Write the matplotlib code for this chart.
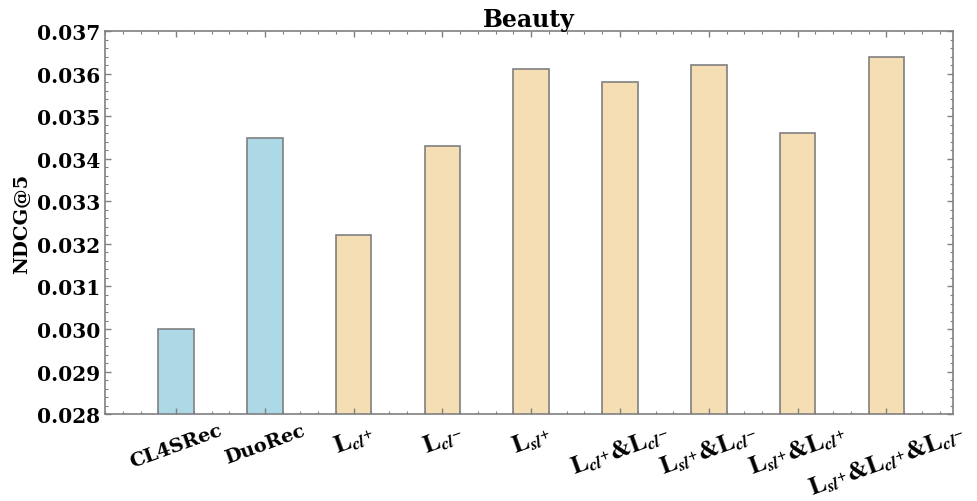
import matplotlib
matplotlib.use("Agg")
import matplotlib.pyplot as plt
import numpy as np
from matplotlib.ticker import MultipleLocator, FormatStrFormatter

plt.rcParams['font.family'] = 'DejaVu Serif'
plt.rcParams['font.weight'] = 'bold'
plt.rcParams['mathtext.fontset'] = 'stix'

methods = ['CL4SRec', 'DuoRec',
           r'$\mathbf{L}_{\boldsymbol{cl}^{+}}$',
           r'$\mathbf{L}_{\boldsymbol{cl}^{-}}$',
           r'$\mathbf{L}_{\boldsymbol{sl}^{+}}$',
           r'$\mathbf{L}_{\boldsymbol{cl}^{+}}$&$\mathbf{L}_{\boldsymbol{cl}^{-}}$',
           r'$\mathbf{L}_{\boldsymbol{sl}^{+}}$&$\mathbf{L}_{\boldsymbol{cl}^{-}}$',
           r'$\mathbf{L}_{\boldsymbol{sl}^{+}}$&$\mathbf{L}_{\boldsymbol{cl}^{+}}$',
           r'$\mathbf{L}_{\boldsymbol{sl}^{+}}$&$\mathbf{L}_{\boldsymbol{cl}^{+}}$'
           r'&$\mathbf{L}_{\boldsymbol{cl}^{-}}$']
ndcg5 = [0.0300, 0.0345, 0.0322, 0.0343, 0.0361, 0.0358, 0.0362, 0.0346, 0.0364]
colors = ['lightblue', 'lightblue'] + ['wheat'] * 7

fig = plt.figure(figsize=(9.77, 5.02), dpi=100)
ax = fig.add_axes([0.1075, 0.173, 0.8679, 0.763])

x = np.arange(len(methods))
ax.bar(x, ndcg5, width=0.4, color=colors, edgecolor='gray', linewidth=1.2)

ax.set_xlim(-0.8, 8.75)
ax.set_ylim(0.028, 0.037)
ax.set_xticks(x)
ax.set_xticklabels(methods, rotation=20, ha='center', fontsize=14, fontweight='bold')
# loss-combination labels use a larger STIX face
for lbl in ax.get_xticklabels()[2:]:
    lbl.set_fontfamily('STIXGeneral')
    lbl.set_fontsize(18)
ax.xaxis.set_minor_locator(MultipleLocator(0.2))
ax.yaxis.set_major_locator(MultipleLocator(0.001))
ax.yaxis.set_minor_locator(MultipleLocator(0.0002))
ax.yaxis.set_major_formatter(FormatStrFormatter('%.3f'))
for lbl in ax.get_yticklabels():
    lbl.set_fontsize(14.5)
    lbl.set_fontweight('bold')

ax.tick_params(which='both', direction='in', top=True, right=True, colors='gray',
               labelcolor='black')
ax.tick_params(which='major', length=4, width=1)
ax.tick_params(which='minor', length=2, width=0.8)
ax.tick_params(axis='x', which='major', pad=5)
for s in ax.spines.values():
    s.set_color('gray')
    s.set_linewidth(1.2)

ax.set_ylabel('NDCG@5', fontsize=14, fontweight='bold')
ax.set_title('Beauty', fontsize=17, fontweight='bold', pad=3)

fig.savefig('out.png', dpi=100)
